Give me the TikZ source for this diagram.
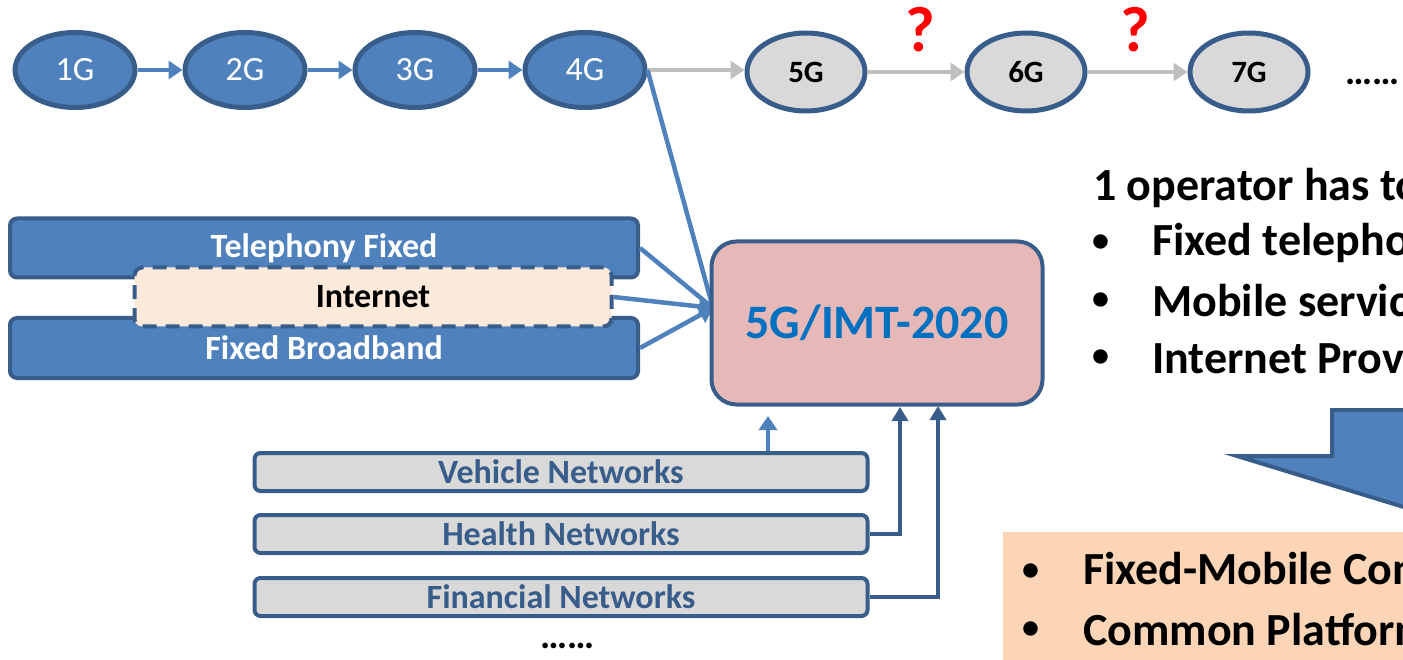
\documentclass[tikz,border=0pt]{standalone}
\usepackage{fontspec}
\setmainfont{Carlito}
\usetikzlibrary{shapes.geometric,arrows.meta}

\definecolor{nodeblue}{HTML}{4F81BD}
\definecolor{edgeblue}{HTML}{385D8A}
\definecolor{futgray}{HTML}{D9D9D9}
\definecolor{linkgray}{HTML}{BFBFBF}
\definecolor{imtpink}{HTML}{E6B9B8}
\definecolor{netpeach}{HTML}{FDEADA}
\definecolor{sumorange}{HTML}{FBD5B5}
\definecolor{imttext}{HTML}{0070C0}

\newcommand{\fsz}[1]{\fontsize{#1}{#1}\selectfont}

\tikzset{
  gen/.style = {ellipse, draw = edgeblue, line width = 5, fill = nodeblue,
    minimum width = 120, minimum height = 75, inner sep = 0,
    text = white, font = \fsz{34}},
  futgen/.style = {gen, fill = futgray, text = black,
    minimum width = 118, minimum height = 78, font = \fsz{31}\bfseries},
  fixbox/.style = {draw = edgeblue, line width = 4, fill = nodeblue,
    rounded corners = 7, minimum width = 628, minimum height = 59,
    text = white, font = \fsz{34}\bfseries},
  netbox/.style = {draw = edgeblue, line width = 4, fill = futgray,
    rounded corners = 6, minimum width = 613, minimum height = 38,
    text = edgeblue, font = \fsz{34}\bfseries},
  blink/.style = {nodeblue, line width = 4.5,
    -{Triangle[length = 14pt, width = 18pt]}},
  glink/.style = {linkgray, line width = 4.5,
    -{Triangle[length = 14pt, width = 18pt]}},
  dlink/.style = {edgeblue, line width = 4.5,
    -{Triangle[length = 14pt, width = 16pt]}},
  qmark/.style = {text = red, font = \fsz{64}\bfseries},
  bigtext/.style = {anchor = west, inner sep = 0, font = \fsz{46}\bfseries},
  bullet/.style = {anchor = west, inner sep = 0, font = \fsz{34}\bfseries}
}

\begin{document}
\begin{tikzpicture}[x = 1pt, y = -1pt]
  \useasboundingbox (0, 0) rectangle (1403, 660);
  \clip (0, 0) rectangle (1403, 660);

  % generations
  \node [gen] (g1) at ( 75, 70) {1G};
  \node [gen] (g2) at (245, 70) {2G};
  \node [gen] (g3) at (415, 70) {3G};
  \node [gen] (g4) at (585, 70) {4G};
  \node [futgen] (g5) at ( 806, 72) {5G};
  \node [futgen] (g6) at (1026, 72) {6G};
  \node [futgen] (g7) at (1249, 72) {7G};
  \draw [blink] (g1) -- (g2);
  \draw [blink] (g2) -- (g3);
  \draw [blink] (g3) -- (g4);
  \draw [glink] (g4.east) -- (g4.east -| g5.west);
  \draw [glink] (g5) -- (g6);
  \draw [glink] (g6) -- (g7);
  \node [qmark] (q1) at ( 920, 30) {?};
  \node [qmark] (q2) at (1135, 30) {?};
  \node [anchor = west, inner sep = 0, font = \fsz{38}\bfseries] (gdots) at (1345, 82) {\dots\dots};

  % fixed services
  \node [fixbox] (tel) at (324, 248) {Telephony Fixed};
  \node [fixbox, minimum height = 60] (bb) at (324, 348) {Fixed Broadband};
  \node [draw = edgeblue, line width = 4, dash pattern = on 14pt off 9pt,
    fill = netpeach, rounded corners = 8, minimum width = 477,
    minimum height = 59, font = \fsz{34}\bfseries] (inet) at (373, 297) {Internet};

  % 5G box
  \coordinate (meet) at (713, 308);
  \draw [nodeblue, line width = 4.5] (g4.east) -- (meet);
  \draw [nodeblue, line width = 4.5] (tel.east) -- (meet);
  \draw [blink] (inet.east) -- (meet);
  \draw [blink] (bb.east) -- (meet);
  \node [draw = edgeblue, line width = 4, fill = imtpink, rounded corners = 25,
    minimum width = 331, minimum height = 163, text = imttext,
    font = \fsz{48}\bfseries] (imt) at (877, 323) {5G/IMT-2020};

  % vertical networks
  \node [netbox] (veh) at (561, 472) {Vehicle Networks};
  \node [netbox] (hea) at (561, 534) {Health Networks};
  \node [netbox] (fin) at (561, 597) {Financial Networks};
  \node [font = \fsz{38}\bfseries] (ndots) at (568, 646) {\dots\dots};
  \coordinate (vup) at (768, 416);
  \coordinate (hup) at (900, 407);
  \coordinate (fup) at (938, 406);
  \draw [blink] (vup |- veh.north) -- (vup);
  \draw [dlink] (hea.east) -| (hup);
  \draw [dlink] (fin.east) -| (fup);

  % operator text
  \node [bigtext] (op) at (1093, 188) {1 operator has to};
  \node [bullet] (b1) at (1092, 243) {•};
  \node [bullet] (b2) at (1092, 301) {•};
  \node [bullet] (b3) at (1092, 358) {•};
  \node [bigtext] (t1) at (1152, 243) {Fixed telephony};
  \node [bigtext] (t2) at (1152, 301) {Mobile services};
  \node [bigtext] (t3) at (1152, 358) {Internet Provider};

  % arrow down
  \draw [edgeblue, line width = 4, fill = nodeblue, line join = miter]
    (1332, 410) -- (1420, 410) -- (1420, 512) -- (1237, 456)
    -- (1332, 456) -- cycle;

  % result box
  \fill [sumorange] (1003, 532) rectangle (1420, 680);
  \node [bullet] (r1) at (1022, 572) {•};
  \node [bullet] (r2) at (1022, 630) {•};
  \node [bigtext] (s1) at (1083, 572) {Fixed-Mobile Convergence};
  \node [bigtext] (s2) at (1083, 630) {Common Platform};
\end{tikzpicture}
\end{document}
